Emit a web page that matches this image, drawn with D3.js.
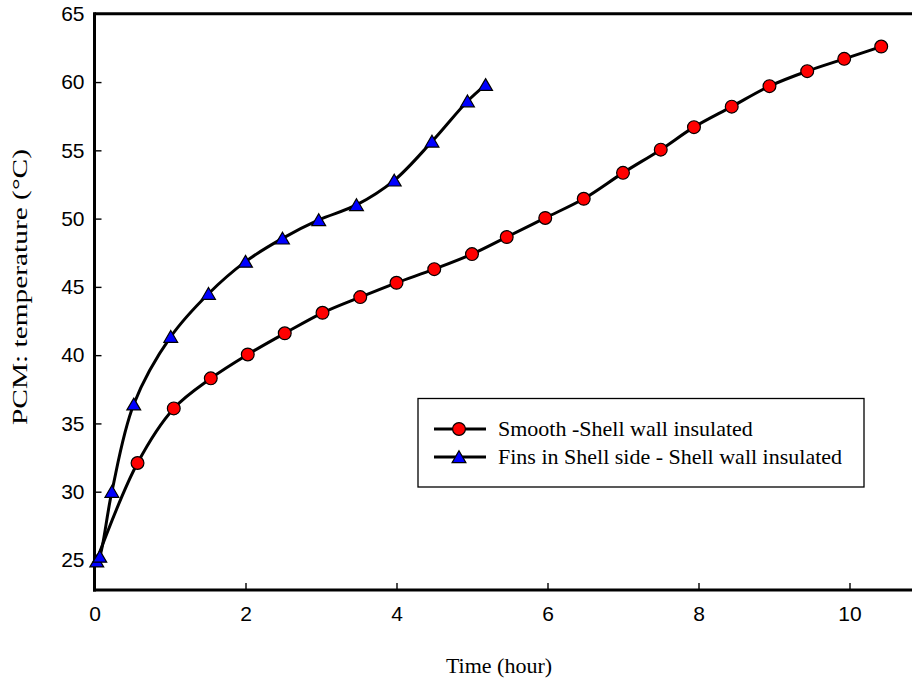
<!DOCTYPE html>
<html>
<head>
<meta charset="utf-8">
<script src="https://cdn.jsdelivr.net/npm/d3@7"></script>
<style>
  html, body { margin: 0; padding: 0; background: #fff; }
  svg { display: block; }
</style>
</head>
<body>
<div id="chart"></div>
<script>
// ---- data ----
const smoothTime = [0.03, 0.57, 1.05, 1.54, 2.03, 2.52, 3.02, 3.52, 4.0, 4.5, 5.0, 5.46, 5.97, 6.48, 7.0, 7.5, 7.94, 8.44, 8.94, 9.44, 9.93, 10.42];
const smoothTemp = [25.0, 32.1, 36.1, 38.3, 40.05, 41.6, 43.1, 44.25, 45.3, 46.3, 47.4, 48.65, 50.05, 51.45, 53.35, 55.05, 56.7, 58.2, 59.7, 60.8, 61.7, 62.6];
const finsTime = [0.03, 0.07, 0.23, 0.52, 1.01, 1.51, 2.0, 2.49, 2.97, 3.47, 3.97, 4.47, 4.94, 5.18];
const finsTemp = [24.9, 25.25, 30.0, 36.4, 41.35, 44.5, 46.85, 48.55, 49.9, 51.0, 52.8, 55.65, 58.6, 59.8];
const xTicks = [0, 2, 4, 6, 8, 10];
const yTicks = [25, 30, 35, 40, 45, 50, 55, 60, 65];
const seriesNames = ["Smooth -Shell wall insulated", "Fins in Shell side - Shell wall insulated"];
const xTitle = "Time (hour)";
const yTitle = "PCM: temperature (°C)";

(function () {
// ---- layout ----
const W = 912, H = 684;
const mLeft = 94.5, mTop = 13.8, mBottom = 590;
const x = d3.scaleLinear().domain([0, 11]).range([mLeft, mLeft + 11 * 75.5]);
const y = d3.scaleLinear().domain([22.8, 65]).range([mBottom, mTop]);

const svg = d3.select("#chart").append("svg").attr("width", W).attr("height", H);

// top frame line
svg.append("line").attr("x1", mLeft).attr("x2", W + 20).attr("y1", mTop).attr("y2", mTop)
  .attr("stroke", "#000").attr("stroke-width", 3);

const sans = "'Liberation Sans', Arial, sans-serif";
const serif = "'Liberation Serif', 'Times New Roman', serif";

const gx = svg.append("g").attr("transform", `translate(0,${mBottom})`)
  .call(d3.axisBottom(x).tickValues(xTicks).tickSize(-7).tickSizeOuter(0).tickPadding(16).tickFormat(d3.format("d")));
const gy = svg.append("g").attr("transform", `translate(${mLeft},0)`)
  .call(d3.axisLeft(y).tickValues(yTicks).tickSize(-7).tickSizeOuter(0).tickPadding(10).tickFormat(d3.format("d")));

[gx, gy].forEach(g => {
  g.select(".domain").attr("stroke", "#000").attr("stroke-width", 3);
  g.selectAll(".tick line").attr("stroke", "#000").attr("stroke-width", 1.4);
  g.selectAll(".tick text").attr("fill", "#000").style("font-family", sans).style("font-size", "21px");
});
gx.select(".domain").attr("d", `M${mLeft - 1.5},0H${W + 20}`);
gy.select(".domain").attr("d", `M0,${mTop - 1.5}V${mBottom + 1.5}`);

// ---- lines ----
const line = d3.line().x(d => x(d[0])).y(d => y(d[1])).curve(d3.curveCatmullRom.alpha(0.5));
const smoothData = smoothTime.map((t, i) => [t, smoothTemp[i]]);
const finsData = finsTime.map((t, i) => [t, finsTemp[i]]);

svg.append("path").datum(smoothData).attr("d", line)
  .attr("fill", "none").attr("stroke", "#000").attr("stroke-width", 3);
svg.append("path").datum(finsData).attr("d", line)
  .attr("fill", "none").attr("stroke", "#000").attr("stroke-width", 3);

const triPath = "M0,-6.2L6.9,5.6L-6.9,5.6Z";

// first smooth point lies under the fins markers at t≈0
svg.append("g").selectAll("circle").data(smoothData.slice(1)).join("circle")
  .attr("cx", d => x(d[0])).attr("cy", d => y(d[1])).attr("r", 6.4)
  .attr("fill", "#ff0000").attr("stroke", "#000").attr("stroke-width", 1.2);
svg.append("g").selectAll("path").data(finsData).join("path")
  .attr("transform", d => `translate(${x(d[0])},${y(d[1])})`).attr("d", triPath)
  .attr("fill", "#0000ff").attr("stroke", "#000").attr("stroke-width", 1.2);

// ---- titles ----
svg.append("text").attr("x", 499).attr("y", 673).attr("text-anchor", "middle")
  .style("font-family", serif).style("font-size", "22px").text(xTitle);
svg.append("text").attr("transform", `translate(27,287) rotate(-90)`).attr("text-anchor", "middle")
  .attr("textLength", 276).attr("lengthAdjust", "spacingAndGlyphs")
  .style("font-family", serif).style("font-size", "20px").text(yTitle);

// ---- legend ----
const lg = svg.append("g");
lg.append("rect").attr("x", 418).attr("y", 398.5).attr("width", 446).attr("height", 88.5)
  .attr("fill", "#fff").attr("stroke", "#000").attr("stroke-width", 1.3);
const rows = [429, 457];
rows.forEach((ry, i) => {
  lg.append("line").attr("x1", 434).attr("x2", 486).attr("y1", ry).attr("y2", ry)
    .attr("stroke", "#000").attr("stroke-width", 3);
  if (i === 0) {
    lg.append("circle").attr("cx", 459).attr("cy", ry).attr("r", 6.4)
      .attr("fill", "#ff0000").attr("stroke", "#000").attr("stroke-width", 1.2);
  } else {
    lg.append("path").attr("transform", `translate(459,${ry})`).attr("d", triPath)
      .attr("fill", "#0000ff").attr("stroke", "#000").attr("stroke-width", 1.2);
  }
  lg.append("text").attr("x", 498).attr("y", ry + 7)
    .style("font-family", serif).style("font-size", "22px").text(seriesNames[i]);
});
})();
</script>
</body>
</html>
